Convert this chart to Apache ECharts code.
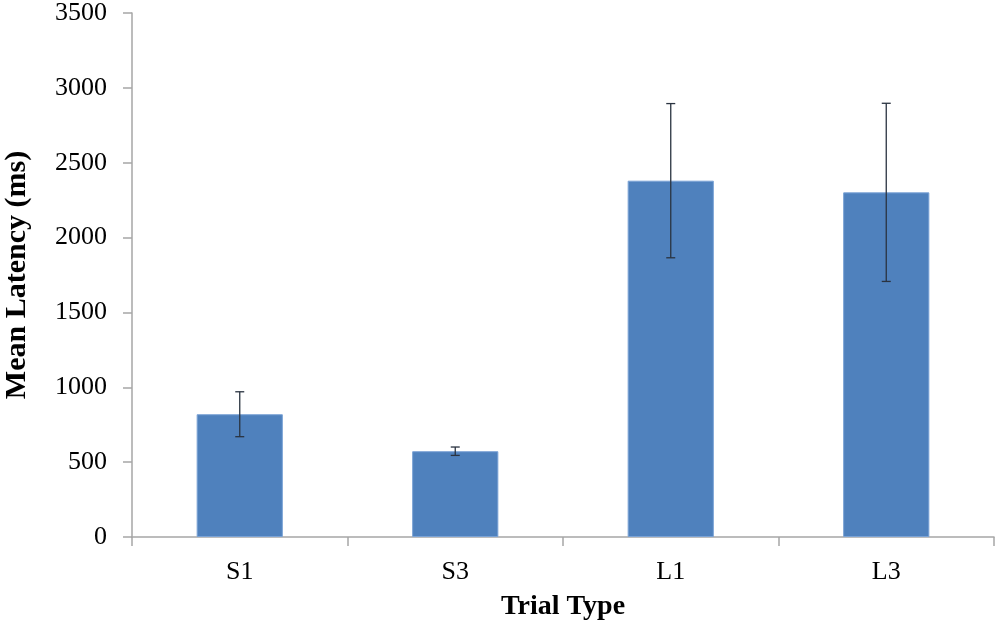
<!DOCTYPE html>
<html><head><meta charset="utf-8">
<script src="https://cdn.jsdelivr.net/npm/echarts@6/dist/echarts.min.js"></script>
<style>html,body{margin:0;padding:0;background:#fff}#c{width:1000px;height:625px}</style>
</head><body><div id="c"></div>
<script>
const categories = ['S1', 'S3', 'L1', 'L3'];
const meanLatency = [820, 573, 2380, 2302];
const errorSize = [150, 28, 515, 595];
const yTicks = [0, 500, 1000, 1500, 2000, 2500, 3000, 3500];

const FONT = '"Liberation Serif", "Times New Roman", serif';
const chart = echarts.init(document.getElementById('c'));
chart.setOption({
  animation: false,
  grid: { left: 132, right: 6, top: 13, bottom: 88, containLabel: false, outerBoundsMode: 'none' },
  xAxis: {
    type: 'category', data: categories,
    name: 'Trial Type', nameLocation: 'middle', nameGap: 56,
    nameTextStyle: { fontFamily: FONT, fontSize: 28, fontWeight: 'bold', color: '#000' },
    axisLine: { lineStyle: { color: '#a6a6a6', width: 1.5 } },
    axisTick: { show: true, length: 9, lineStyle: { color: '#a6a6a6', width: 1.5 }, alignWithLabel: false },
    axisLabel: { fontFamily: FONT, fontSize: 26, color: '#000', margin: 22 }
  },
  yAxis: {
    type: 'value', min: yTicks[0], max: yTicks[yTicks.length - 1], interval: 500,
    name: 'Mean Latency (ms)', nameLocation: 'middle', nameGap: 100, nameRotate: 90,
    nameTextStyle: { fontFamily: FONT, fontSize: 30, fontWeight: 'bold', color: '#000' },
    axisLine: { show: true, lineStyle: { color: '#a6a6a6', width: 1.5 } },
    axisTick: { show: true, length: 9, lineStyle: { color: '#a6a6a6', width: 1.5 } },
    splitLine: { show: false },
    axisLabel: { fontFamily: FONT, fontSize: 26, color: '#000', margin: 25, formatter: v => String(v) }
  },
  series: [
    {
      type: 'bar', data: meanLatency, barWidth: '40%',
      itemStyle: { color: '#4f81bd', borderColor: '#7ba3d6', borderWidth: 1 }
    },
    {
      type: 'custom',
      data: meanLatency.map((v, i) => [i, v - errorSize[i], v + errorSize[i]]),
      renderItem: function (params, api) {
        const lo = api.coord([api.value(0), api.value(1)]);
        const hi = api.coord([api.value(0), api.value(2)]);
        const hw = 4.5;
        const style = { stroke: '#2a3340', lineWidth: 1.3 };
        return {
          type: 'group', children: [
            { type: 'line', shape: { x1: lo[0], y1: lo[1], x2: hi[0], y2: hi[1] }, style },
            { type: 'line', shape: { x1: lo[0] - hw, y1: lo[1], x2: lo[0] + hw, y2: lo[1] }, style },
            { type: 'line', shape: { x1: hi[0] - hw, y1: hi[1], x2: hi[0] + hw, y2: hi[1] }, style }
          ]
        };
      },
      z: 10
    }
  ]
});
</script></body></html>
